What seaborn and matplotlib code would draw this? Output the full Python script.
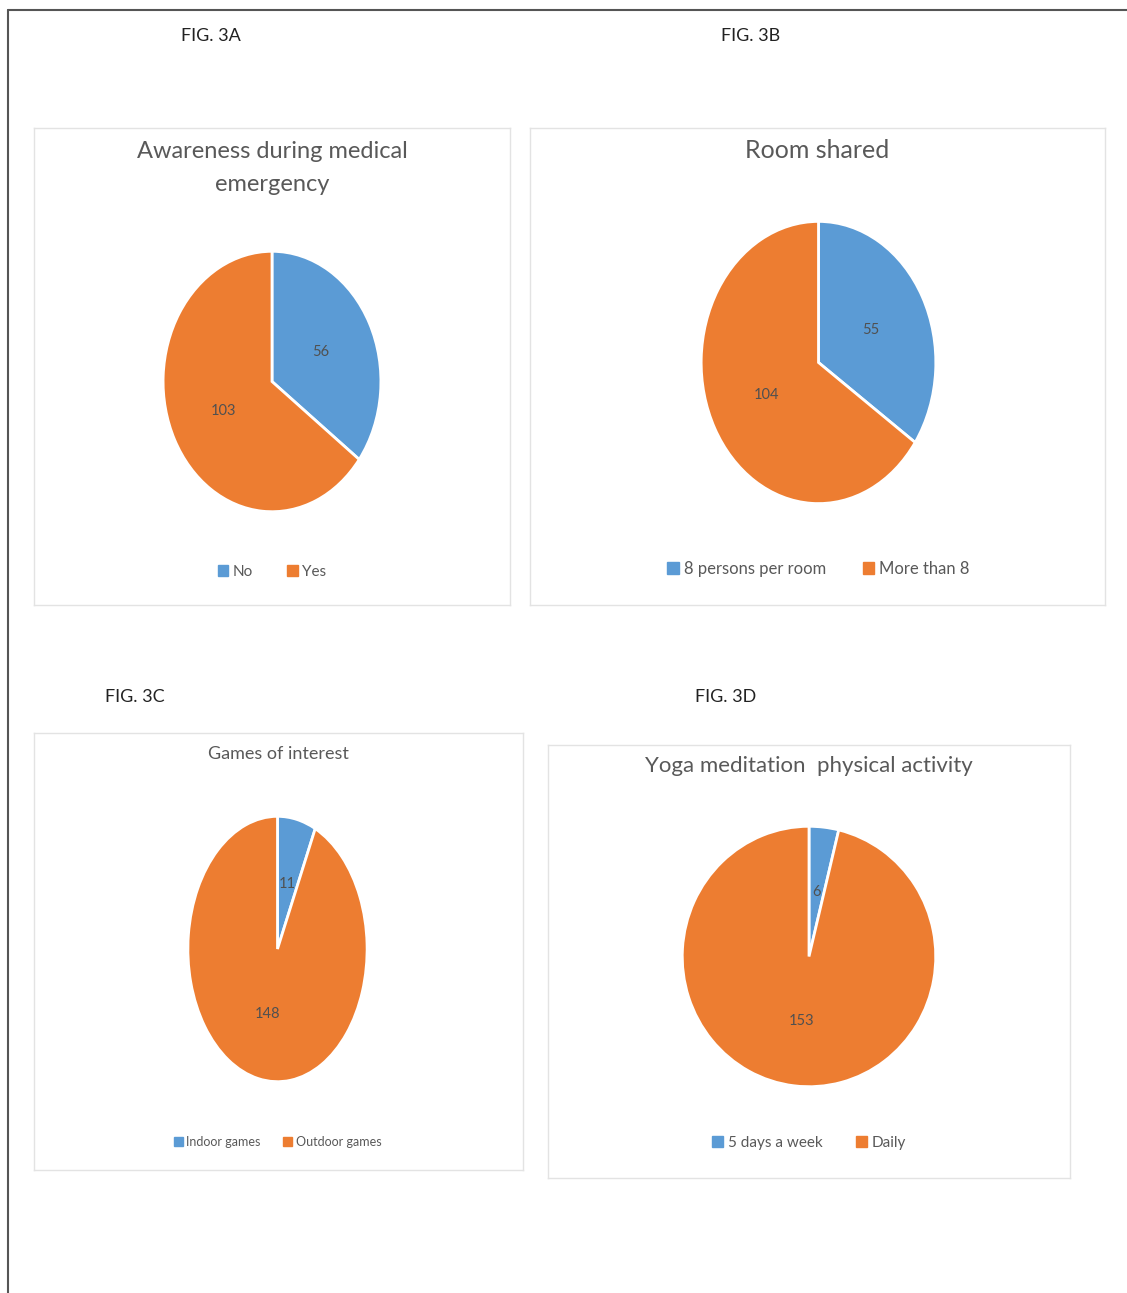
import matplotlib
matplotlib.use('Agg')
import matplotlib.pyplot as plt
import matplotlib.patches as mpatches
import seaborn as sns

# data
fig_tags = ['FIG. 3A', 'FIG. 3B', 'FIG. 3C', 'FIG. 3D']
titles = ['Awareness during medical\nemergency', 'Room shared',
          'Games of interest', 'Yoga meditation  physical activity']
labels_a = ['No', 'Yes']
values_a = [56, 103]
labels_b = ['8 persons per room', 'More than 8']
values_b = [55, 104]
labels_c = ['Indoor games', 'Outdoor games']
values_c = [11, 148]
labels_d = ['5 days a week', 'Daily']
values_d = [6, 153]

sns.set_theme(style='white')
plt.rcParams['font.family'] = ['Lato', 'DejaVu Sans']
colors = ['#5B9BD5', '#ED7D31']

W, H = 1127, 1293
fig = plt.figure(figsize=(W / 100, H / 100), dpi=100)
fig.patch.set_facecolor('white')


def box(x0, y0, x1, y1):
    return [x0 / W, 1 - y1 / H, (x1 - x0) / W, (y1 - y0) / H]


def fx(x):
    return x / W


def fy(y):
    return 1 - y / H


# page border (top and left)
fig.add_artist(plt.Line2D([fx(8), 1], [fy(10), fy(10)], color='#555555', lw=1.5))
fig.add_artist(plt.Line2D([fx(8), fx(8)], [fy(10), 0], color='#555555', lw=1.5))

panels = [
    dict(panel=(34, 128, 510, 605), pie=(162, 250, 382, 513), ty=168, ts=17,
         ly=572, ls=11, cs=2.2, tag=(211, 36), labels=labels_a, values=values_a),
    dict(panel=(530, 128, 1105, 605), pie=(700, 220, 937, 505), ty=151, ts=18,
         ly=569, ls=12, cs=2.2, tag=(751, 36), labels=labels_b, values=values_b),
    dict(panel=(34, 733, 523, 1170), pie=(187, 815, 368, 1083), ty=754, ts=13,
         ly=1142, ls=9, cs=1.8, tag=(135, 697), labels=labels_c, values=values_c),
    dict(panel=(548, 745, 1070, 1178), pie=(681, 825, 937, 1088), ty=766, ts=16,
         ly=1143, ls=11, cs=2.2, tag=(726, 697), labels=labels_d, values=values_d),
]

for p, tag, title in zip(panels, fig_tags, titles):
    # light chart frame
    bg = fig.add_axes(box(*p['panel']))
    bg.set_xticks([])
    bg.set_yticks([])
    for s in bg.spines.values():
        s.set_color('#e3e3e3')
        s.set_linewidth(1)
    bg.set_facecolor('white')

    fig.text(fx(p['tag'][0]), fy(p['tag'][1]), tag, ha='center', va='center',
             fontsize=13, color='#222222')
    fig.text(fx((p['panel'][0] + p['panel'][2]) / 2), fy(p['ty']), title,
             ha='center', va='center', fontsize=p['ts'], color='#595959',
             linespacing=1.7)

    ax = fig.add_axes(box(*p['pie']))
    total = sum(p['values'])
    ax.pie(p['values'], colors=colors, startangle=90, counterclock=False,
           autopct=lambda pct, t=total: f'{round(pct * t / 100)}',
           pctdistance=0.5, wedgeprops=dict(edgecolor='white', linewidth=2),
           textprops=dict(color='#505050', fontsize=10.5))
    ax.set_aspect('auto')
    ax.set_xlim(-1.01, 1.01)
    ax.set_ylim(-1.01, 1.01)
    ax.axis('off')

    handles = [mpatches.Patch(color=c, label=l) for c, l in zip(colors, p['labels'])]
    fig.legend(handles=handles, loc='center', ncol=2, frameon=False,
               bbox_to_anchor=(fx((p['pie'][0] + p['pie'][2]) / 2), fy(p['ly'])),
               fontsize=p['ls'], handlelength=0.7, handleheight=0.7,
               handletextpad=0.3, columnspacing=p['cs'], labelcolor='#595959')

fig.savefig('out.png', dpi=100, facecolor='white')
